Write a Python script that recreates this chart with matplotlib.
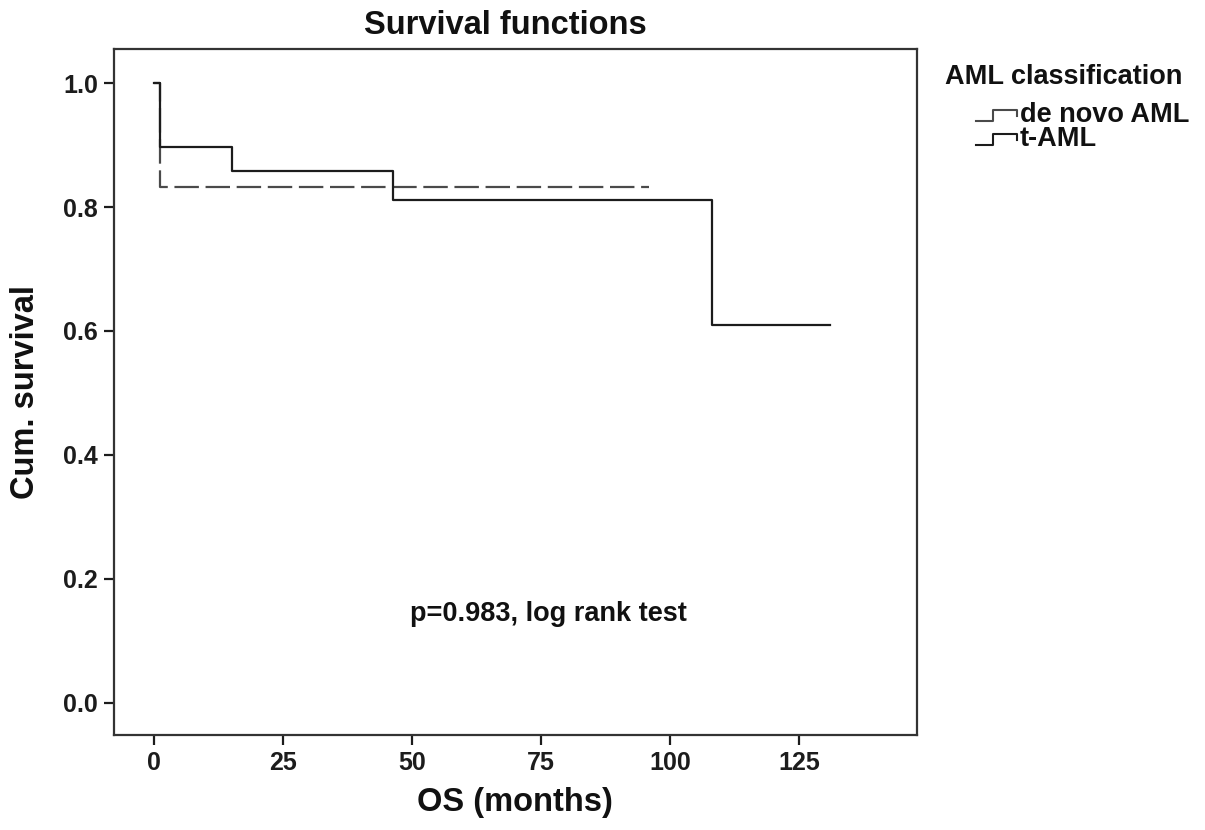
import matplotlib
matplotlib.use("Agg")
import matplotlib.pyplot as plt
from matplotlib.lines import Line2D

# Kaplan-Meier step values
t_aml_time = [0, 1.1, 15.1, 46.3, 108.1, 131.0]
t_aml_surv = [1.0, 0.897, 0.858, 0.811, 0.609, 0.609]

denovo_time = [0, 1.1, 95.9]
denovo_surv = [1.0, 0.833, 0.833]

x_ticks = [0, 25, 50, 75, 100, 125]
y_ticks = [0.0, 0.2, 0.4, 0.6, 0.8, 1.0]

legend_title = "AML classification"
legend_labels = ["de novo AML", "t-AML"]
p_text = "p=0.983, log rank test"

plt.rcParams["font.family"] = ["Liberation Sans", "DejaVu Sans"]
plt.rcParams["font.weight"] = "bold"

W, H = 1205, 830
fig = plt.figure(figsize=(W / 100, H / 100), dpi=100)
ax = fig.add_axes([114 / W, 1 - 735 / H, (917 - 114) / W, (735 - 49) / H])

gray = "#4a4a4a"
dark = "#1c1c1c"

ax.plot(denovo_time, denovo_surv, drawstyle="steps-post", color=gray,
        lw=1.6, linestyle=(0, (11, 3)))
ax.plot(t_aml_time, t_aml_surv, drawstyle="steps-post", color=dark, lw=1.6)

ax.set_xlim(-7.75, 147.9)
ax.set_ylim(-0.052, 1.055)
ax.set_xticks(x_ticks)
ax.set_yticks(y_ticks)
ax.set_yticklabels([f"{v:.1f}" for v in y_ticks])
ax.tick_params(direction="out", length=7.5, width=1.6, labelsize=18,
               pad=4, colors=dark)
for s in ax.spines.values():
    s.set_linewidth(1.6)
    s.set_color("#333333")

ax.text(76.4, 0.144, p_text, ha="center", va="center", fontsize=19.5,
        fontweight="bold", color="#111111")

fig.text(505 / W, 1 - 34 / H, "Survival functions", ha="center",
         va="baseline", fontsize=23.5, fontweight="bold", color="#111111")
fig.text(515 / W, 1 - 811 / H, "OS (months)", ha="center", va="baseline",
         fontsize=23.5, fontweight="bold", color="#111111")
fig.text(26 / W, 1 - 392 / H, "Cum. survival", ha="center", va="center",
         rotation=90, fontsize=23.5, fontweight="bold", color="#111111")

# legend block in the right margin, SPSS style
fig.text(945 / W, 1 - 77 / H, legend_title, ha="left", va="center",
         fontsize=19.5, fontweight="bold", color="#111111")
entry_y = [115, 139]
entry_col = [gray, dark]
for label, yc, col in zip(legend_labels, entry_y, entry_col):
    lo, hi = yc + 6, yc - 5
    xs = [976, 993, 993, 1017, 1017]
    ys = [lo, lo, hi, hi, yc + 1]
    fig.add_artist(Line2D([x / W for x in xs], [1 - y / H for y in ys],
                          transform=fig.transFigure, color=col, lw=1.5))
    fig.text(1020 / W, 1 - yc / H, label, ha="left", va="center",
             fontsize=19.5, fontweight="bold", color="#111111")

fig.savefig("out.png", dpi=100)
